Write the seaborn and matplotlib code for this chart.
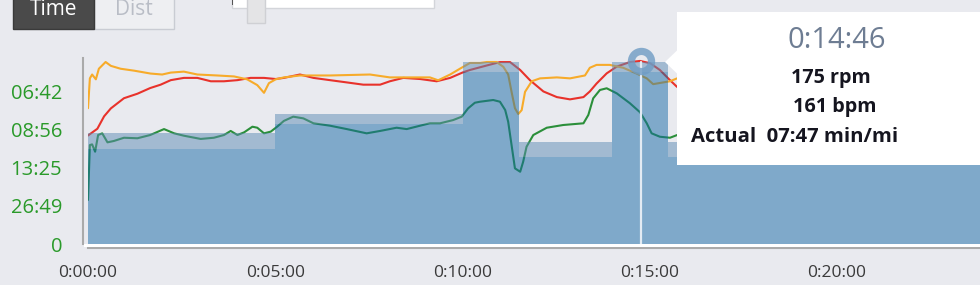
import matplotlib
matplotlib.use("Agg")
import matplotlib.pyplot as plt
import seaborn as sns
import numpy as np
import pandas as pd
from matplotlib.patches import Rectangle, Polygon
from matplotlib.transforms import ScaledTranslation

# ---------------- data ----------------
# workout steps (minutes) and target speed band (mph)
step_start_min = [0, 5.0, 10.0, 11.5, 14.0, 15.5]
step_end_min = 24.0
target_low_mph = [5.59, 7.06, 10.12, 5.12, 10.12, 5.12]
target_high_mph = [6.53, 7.65, 10.71, 6.00, 10.71, 6.00]

# actual pace expressed as speed (mph)
pace_t = [0, 0.05, 0.11, 0.19, 0.27, 0.38, 0.52, 0.69, 0.96, 1.32,
          1.66, 2.03, 2.30, 2.56, 3.01, 3.36, 3.63, 3.81, 3.99, 4.17,
          4.39, 4.52, 4.70, 4.88, 5.05, 5.23, 5.48, 5.75, 6.02, 6.46,
          6.91, 7.44, 7.80, 8.24, 8.51, 8.87, 9.13, 9.40, 9.75, 9.98,
          10.15, 10.33, 10.47, 10.82, 11.00, 11.14, 11.22, 11.31, 11.40, 11.54,
          11.62, 11.71, 11.89, 12.25, 12.69, 13.23, 13.36, 13.49, 13.67, 13.85,
          14.12, 14.47, 14.74, 14.92, 15.05, 15.27, 15.54, 15.73]
speed_mph = [2.59, 5.82, 5.86, 5.43, 6.41, 6.51, 5.98, 6.06, 6.25, 6.22,
             6.41, 6.76, 6.51, 6.37, 6.18, 6.25, 6.41, 6.65, 6.41, 6.57,
             6.90, 6.84, 6.51, 6.61, 6.90, 7.24, 7.49, 7.39, 7.10, 6.96,
             6.76, 6.51, 6.65, 6.84, 6.76, 6.96, 7.10, 7.10, 7.29, 7.49,
             7.98, 8.31, 8.37, 8.47, 8.37, 7.88, 7.19, 5.82, 4.45, 4.25,
             4.84, 5.72, 6.41, 6.84, 7.00, 7.10, 7.59, 8.57, 9.06, 9.16,
             8.86, 8.28, 7.75, 7.10, 6.51, 6.31, 6.25, 6.41]

# heart rate (bpm)
hr_t = [0, 0.25, 0.43, 0.61, 0.96, 1.32, 1.66, 1.94, 2.21, 2.56,
        2.92, 3.28, 3.63, 3.99, 4.34, 4.70, 5.01, 5.23, 5.66, 6.02,
        6.46, 6.91, 7.35, 7.80, 8.06, 8.42, 8.87, 9.31, 9.67, 10.02,
        10.20, 10.65, 11.00, 11.27, 11.54, 11.80, 12.16, 12.52, 12.87, 13.23,
        13.40, 13.58, 13.85, 14.12, 14.47, 14.74, 15.01, 15.27, 15.54, 15.73]
hr_bpm = [96, 102, 113, 120, 129, 133, 138, 141, 145, 147,
          147, 144, 144, 145, 147, 147, 146, 147, 150, 147,
          145, 143, 141, 141, 144, 147, 146, 144, 147, 152,
          154, 158, 161, 161, 154, 145, 135, 130, 128, 130,
          135, 142, 151, 157, 161, 162, 160, 154, 145, 139]

# cadence (rpm)
cad_t = [0, 0.05, 0.11, 0.21, 0.29, 0.47, 0.61, 0.87, 1.23, 1.67,
         1.98, 2.21, 2.56, 2.92, 3.45, 3.90, 4.25, 4.52, 4.70, 4.83,
         5.01, 5.23, 5.66, 6.46, 7.53, 8.06, 8.69, 9.13, 9.35, 9.67,
         9.93, 10.20, 10.47, 10.65, 10.91, 11.09, 11.22, 11.31, 11.40, 11.49,
         11.58, 11.67, 11.85, 12.07, 12.52, 12.87, 13.27, 13.40, 13.58, 13.93,
         14.29, 14.65, 14.92, 15.09, 15.54, 15.73]
cad_rpm = [141, 172, 176, 171, 182, 189, 185, 182, 180, 177,
           176, 178, 179, 176, 175, 174, 171, 165, 157, 167,
           171, 173, 175, 175, 176, 173, 173, 173, 170, 176,
           182, 188, 188, 189, 189, 184, 176, 158, 141, 135,
           139, 158, 169, 172, 173, 172, 175, 183, 186, 186,
           183, 177, 172, 166, 169, 172]

ytick_speed = [0, 2.237, 4.474, 6.711, 8.948]
ytick_labels = ["0", "26:49", "13:25", "08:56", "06:42"]
xtick_min = [0, 5, 10, 15, 20]
xtick_labels = ["0:00:00", "0:05:00", "0:10:00", "0:15:00", "0:20:00"]

cursor_min = 14 + 46 / 60
cursor_hr = 161
tooltip_time = "0:14:46"
tooltip_cad = "175 rpm"
tooltip_hr = "161 bpm"
tooltip_pace = "Actual  07:47 min/mi"

# ---------------- style ----------------
W, H = 980, 293
BG = "#e9eaef"
GREEN = "#2b8f3a"
RED = "#e8322b"
ORANGE = "#f7ab2a"
FONT = ["Open Sans", "DejaVu Sans"]

sns.set_theme(style="white")
plt.rcParams["font.family"] = FONT

fig = plt.figure(figsize=(W / 100, H / 100), dpi=100, facecolor=BG)


def fx(x):
    return x / W


def fy(y):
    return 1 - y / H


# plot area: x 88..980 px, y 58..244 px
ax = fig.add_axes([fx(88), fy(244), 1 - fx(88), 186 / H])
ax.set_facecolor("none")
ax.set_xlim(0, (W - 88) / 37.45)
ax.set_ylim(0, 186 / 17)

ax_hr = ax.twinx()
ax_cad = ax.twinx()
ax_fill = ax.twinx()
ax_cur = ax.twinx()
ax_hr.set_ylim(0, 186 / 1.13)
ax_cad.set_ylim(0, 186 / 0.963)
ax_fill.set_ylim(ax.get_ylim())
ax_cur.set_ylim(ax_hr.get_ylim())
for a in (ax_hr, ax_cad, ax_fill, ax_cur):
    a.set_facecolor("none")
    a.set_yticks([])
    for s in a.spines.values():
        s.set_visible(False)

# lines
sns.lineplot(x=pace_t, y=speed_mph, ax=ax, color=GREEN, lw=1.5)
sns.lineplot(x=hr_t, y=hr_bpm, ax=ax_hr, color=RED, lw=1.5)
sns.lineplot(x=cad_t, y=cad_rpm, ax=ax_cad, color=ORANGE, lw=1.5)

# target band fill (semi-transparent, over the lines)
edges = step_start_min + [step_end_min]
low = target_low_mph + [target_low_mph[-1]]
high = target_high_mph + [target_high_mph[-1]]
ax_fill.fill_between(edges, 0, low, step="post", color="#166aa6", alpha=0.5, lw=0)
ax_fill.fill_between(edges, low, high, step="post", color="#5c8bb4", alpha=0.5, lw=0)

# cursor
ax_cur.plot([cursor_min, cursor_min], [0, cursor_hr], color="#e3ebf3", lw=1.6, zorder=3)
ax_cur.plot([cursor_min], [cursor_hr + 1], "o", ms=14.5, mfc="none", mec="#6f9cc4",
            mew=5.2, alpha=0.8, zorder=4, clip_on=False)

# axes decoration
ax.set_yticks(ytick_speed)
ax.set_yticklabels(ytick_labels)
ax.set_xticks(xtick_min)
ax.set_xticklabels(xtick_labels)
ax.tick_params(axis="y", length=0, pad=15, labelsize=14.5, labelcolor="#2a9a2a")
ax.tick_params(axis="x", length=0, pad=12, labelsize=12.5, labelcolor="#3a3a3a")
for lab in ax.get_xticklabels():
    lab.set_transform(lab.get_transform() + ScaledTranslation(0.04, 0, fig.dpi_scale_trans))
ax.set_xlabel("")
ax.set_ylabel("")
for side in ("top", "right"):
    ax.spines[side].set_visible(False)
ax.spines["left"].set_position(("outward", 3.6))
ax.spines["bottom"].set_position(("outward", 2.9))
for side in ("left", "bottom"):
    ax.spines[side].set_color("#aaaaaa")
    ax.spines[side].set_linewidth(1.5)
ax.grid(False)

# white gap line between fill and bottom axis
fig.add_artist(Rectangle((fx(84), fy(247)), 1, 3 / H, transform=fig.transFigure,
                         fc="white", ec="none", zorder=1))

# bottom white strip
fig.add_artist(Rectangle((0, 0), 1, 8 / H, transform=fig.transFigure,
                         fc="white", ec="none", zorder=1))

# top controls: Time / Dist buttons
fig.add_artist(Rectangle((fx(94), fy(29)), 80 / W, 29 / H + 0.02, transform=fig.transFigure,
                         fc="#eeeff2", ec="#c9ccd3", lw=1, zorder=5))
fig.add_artist(Rectangle((fx(13), fy(29)), 81 / W, 29 / H + 0.02, transform=fig.transFigure,
                         fc="#4a4a4a", ec="#3a3a3a", lw=1, zorder=6))
fig.text(fx(54), fy(15), "Time", ha="center", va="baseline", color="white",
         size=15, zorder=7)
fig.text(fx(134), fy(15), "Dist", ha="center", va="baseline", color="#b9bdc6",
         size=15, zorder=7)

# slider
fig.add_artist(Rectangle((fx(232), fy(8)), 202 / W, 8 / H + 0.02, transform=fig.transFigure,
                         fc="white", ec="#d3d5da", lw=1, zorder=5))
fig.add_artist(Rectangle((fx(232), fy(5)), 1.2 / W, 5 / H + 0.02, transform=fig.transFigure,
                         fc="#555555", ec="none", zorder=6))
fig.add_artist(Rectangle((fx(247), fy(23)), 18 / W, 23 / H + 0.02, transform=fig.transFigure,
                         fc="#e4e4e6", ec="#cfd0d4", lw=1, zorder=6))

# tooltip
fig.add_artist(Rectangle((fx(677), fy(165)), 1 - fx(677) + 0.01, (165 - 12) / H,
                         transform=fig.transFigure, fc="white", ec="none", zorder=20))
fig.add_artist(Polygon([(fx(677.5), fy(50)), (fx(665), fy(62)), (fx(677.5), fy(74))],
                       closed=True, transform=fig.transFigure, fc="white", ec="none", zorder=21))
fig.text(fx(787), fy(48.3), tooltip_time, ha="left", va="baseline", size=21,
         color="#6e7d93", zorder=22)
fig.text(fx(791), fy(82.7), tooltip_cad, ha="left", va="baseline", size=14.2,
         color="#15151f", weight="bold", zorder=22)
fig.text(fx(793), fy(111.7), tooltip_hr, ha="left", va="baseline", size=14.2,
         color="#15151f", weight="bold", zorder=22)
fig.text(fx(691), fy(141.7), tooltip_pace, ha="left", va="baseline", size=14.6,
         color="#15151f", weight="bold", zorder=22)

fig.savefig("out.png", dpi=100, facecolor=BG)
